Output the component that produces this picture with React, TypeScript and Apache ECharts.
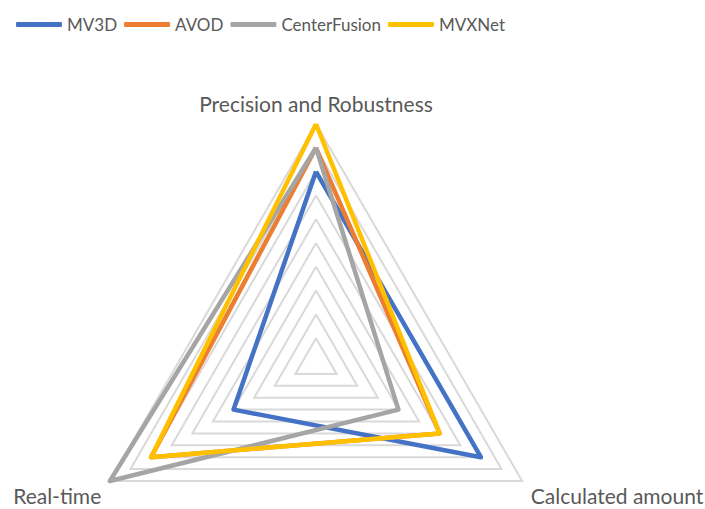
import React, { useEffect, useRef } from "react";
import * as echarts from "echarts";

const indicators = ["Precision and Robustness", "Real-time", "Calculated amount"];
const seriesNames = ["MV3D", "AVOD", "CenterFusion", "MVXNet"];
const colors = ["#4472C4", "#ED7D31", "#A5A5A5", "#FFC000"];
// values in indicator order: Precision, Real-time, Calculated amount
const mv3d = [8, 4, 8];
const avod = [9, 8, 6];
const centerFusion = [9, 10, 4];
const mvxnet = [10, 8, 6];
const maxValue = 10;

const FONT = "Lato";

export default function App() {
  const ref = useRef<HTMLDivElement>(null);
  useEffect(() => {
    document.body.style.margin = "0";
    document.body.style.overflow = "hidden";
    if (!ref.current) return;
    const chart = echarts.init(ref.current, undefined, { renderer: "svg" });
    const values = [mv3d, avod, centerFusion, mvxnet];
    chart.setOption({
      animation: false,
      legend: {
        data: seriesNames,
        left: 11,
        top: 11,
        itemWidth: 46,
        itemHeight: 5,
        itemGap: 7,
        icon: "roundRect",
        textStyle: { color: "#595959", fontSize: 17, fontFamily: FONT },
      },
      radar: {
        center: [316, 362],
        radius: 238,
        startAngle: 90,
        splitNumber: 10,
        shape: "polygon",
        indicator: indicators.map((n) => ({ name: n, max: maxValue, min: 0 })),
        axisName: {
          color: "#595959",
          fontSize: 21,
          fontFamily: FONT,
          formatter: (name: string) =>
            name === indicators[0] ? `{t|${name}}` : `{b|${name}}`,
          rich: {
            t: { color: "#595959", fontSize: 21, fontFamily: FONT },
            b: { color: "#595959", fontSize: 21, fontFamily: FONT, padding: [18, 0, 0, 0] },
          },
        },
        nameGap: 10,
        axisLine: { show: false },
        splitArea: { show: false },
        splitLine: { lineStyle: { color: "#D9D9D9", width: 2 } },
      },
      series: [
        {
          type: "radar",
          symbol: "none",
          data: values.map((v, i) => ({
            name: seriesNames[i],
            value: v,
            lineStyle: { color: colors[i], width: 4.5 },
            itemStyle: { color: colors[i] },
          })),
        },
      ],
    });
    return () => chart.dispose();
  }, []);
  return <div ref={ref} style={{ width: 705, height: 509 }} />;
}
